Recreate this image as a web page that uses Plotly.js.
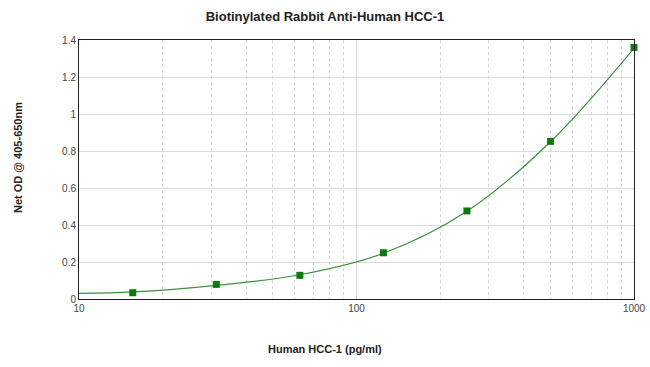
<!DOCTYPE html>
<html>
<head>
<meta charset="utf-8">
<script src="https://cdn.plot.ly/plotly-3.0.1.min.js"></script>
<style>html,body{margin:0;padding:0;background:#fff;}#chart{width:650px;height:367px;}</style>
</head>
<body>
<div id="chart"></div>
<script>
// Standard concentrations (pg/ml) and measured OD
const concentrations = [15.625, 31.25, 62.5, 125, 250, 500, 1000];
const odValues = [0.034, 0.079, 0.128, 0.250, 0.476, 0.852, 1.36];
// Fitted curve
const fitX = [10, 15.625, 31.25, 62.5, 125, 250, 500, 1000];
const fitY = [0.030, 0.038, 0.074, 0.131, 0.247, 0.474, 0.850, 1.355];
// Axis ticks
const xTickVals = [10, 100, 1000];
const xTickText = ["10", "100", "1000"];
const xMinorVals = [20, 30, 40, 50, 60, 70, 80, 90, 200, 300, 400, 500, 600, 700, 800, 900];
const yTickVals = [0, 0.2, 0.4, 0.6, 0.8, 1, 1.2, 1.4];
const yTickText = ["0", "0.2", "0.4", "0.6", "0.8", "1", "1.2", "1.4"];

const font = "Liberation Sans, Arial, sans-serif";

const traces = [
  {
    x: fitX, y: fitY, type: "scatter", mode: "lines",
    line: {color: "#3d8f3d", width: 1.2, shape: "spline"},
    hoverinfo: "skip", showlegend: false
  },
  {
    x: concentrations, y: odValues, type: "scatter", mode: "markers",
    marker: {symbol: "square", size: 7, color: "#0b7a0b"},
    showlegend: false, cliponaxis: false
  }
];

const layout = {
  width: 650, height: 367,
  margin: {l: 79, r: 16, t: 40, b: 68},
  paper_bgcolor: "#fff", plot_bgcolor: "#fff",
  font: {family: font, size: 10, color: "#444"},
  title: {
    text: "<b>Biotinylated Rabbit Anti-Human HCC-1</b>",
    font: {family: font, size: 13, color: "#222"},
    x: 0.5, xref: "container", xanchor: "center",
    y: 1 - 16/367, yref: "container", yanchor: "middle"
  },
  xaxis: {
    type: "log", range: [1, 3],
    tickvals: xTickVals, ticktext: xTickText,
    showgrid: true, gridcolor: "#d8d8d8", gridwidth: 1,
    minor: {tickvals: xMinorVals, showgrid: true, gridcolor: "#d6d6d6", griddash: "dot", gridwidth: 1, ticks: ""},
    showline: true, linecolor: "#222", linewidth: 1, mirror: true,
    ticks: "", zeroline: false,
    tickfont: {family: font, size: 10, color: "#444"},
    automargin: false, fixedrange: true
  },
  yaxis: {
    range: [0, 1.4],
    tickvals: yTickVals, ticktext: yTickText,
    showgrid: true, gridcolor: "#dcdcdc", gridwidth: 1,
    showline: true, linecolor: "#222", linewidth: 1, mirror: true,
    ticks: "", zeroline: false,
    tickfont: {family: font, size: 10, color: "#444"},
    automargin: false, fixedrange: true
  },
  annotations: [
    {
      text: "<b>Human HCC-1 (pg/ml)</b>", showarrow: false,
      xref: "paper", yref: "paper",
      x: (325 - 79) / 555, y: -(349 - 299) / 259,
      xanchor: "center", yanchor: "middle",
      font: {family: font, size: 11, color: "#222"}
    },
    {
      text: "<b>Net OD @ 405-650nm</b>", showarrow: false, textangle: -90,
      xref: "paper", yref: "paper",
      x: (18 - 79) / 555, y: (299 - 158) / 259,
      xanchor: "center", yanchor: "middle",
      font: {family: font, size: 11, color: "#222"}
    }
  ]
};

Plotly.newPlot("chart", traces, layout, {displayModeBar: false, staticPlot: true});
</script>
</body>
</html>
